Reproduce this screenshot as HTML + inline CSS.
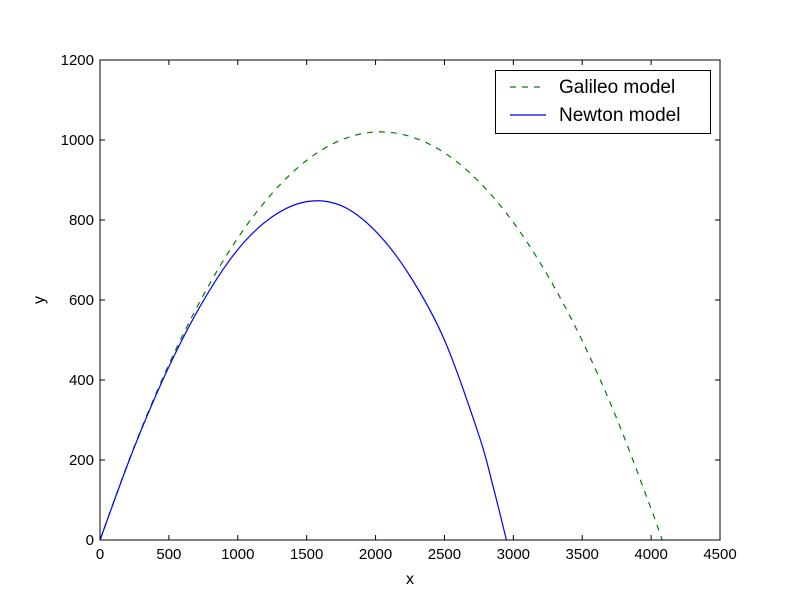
<!DOCTYPE html>
<html><head><meta charset="utf-8"><style>body{margin:0;background:#fff}svg{display:block}text{font-family:"Liberation Sans","DejaVu Sans",sans-serif}</style></head>
<body>
<svg id="chart" width="800" height="600"></svg>
<script>
const galileoX=[0,250,500,750,1000,1250,1500,1750,2000,2250,2500,2750,3000,3250,3500,3750,4000,4080];
const galileoY=[0,235,439,612,755,867,949,1000,1020,1009,968,896,794,661,498,304,78,0];
const newtonX=[0,250,500,750,1000,1250,1500,1750,2000,2250,2500,2750,2850,2950];
const newtonY=[0,233,433,598,726,808,846,836,772,660,500,262,138,0];
const xTicks=[0,500,1000,1500,2000,2500,3000,3500,4000,4500];
const yTicks=[0,200,400,600,800,1000,1200];
const L=100,R=720,T=60,B=540;
const sx=v=>L+(v/4500)*(R-L), sy=v=>B-(v/1200)*(B-T);
const svg=document.getElementById('chart'),NS='http://www.w3.org/2000/svg';
function mk(tag,attrs,parent){const e=document.createElementNS(NS,tag);for(const k in attrs)e.setAttribute(k,attrs[k]);(parent||svg).appendChild(e);return e;}
function pathD(xs,ys){const p=xs.map((x,i)=>[sx(x),sy(ys[i])]);let d='M'+p[0][0]+','+p[0][1];
for(let i=0;i<p.length-1;i++){const p0=p[i-1]||p[i],p1=p[i],p2=p[i+1],p3=p[i+2]||p2;
d+=' C'+(p1[0]+(p2[0]-p0[0])/6)+','+(p1[1]+(p2[1]-p0[1])/6)+' '+(p2[0]-(p3[0]-p1[0])/6)+','+(p2[1]-(p3[1]-p1[1])/6)+' '+p2[0]+','+p2[1];}return d;}
const g=mk('path',{d:pathD(galileoX,galileoY),fill:'none',stroke:'#008000','stroke-width':1.2,'stroke-dasharray':'6,6'});


const n=mk('path',{d:pathD(newtonX,newtonY),fill:'none',stroke:'#0000ff','stroke-width':1.2});


xTicks.forEach(v=>{const x=sx(v);
mk('line',{x1:x,x2:x,y1:B,y2:B-5,stroke:'#000'});mk('line',{x1:x,x2:x,y1:T,y2:T+5,stroke:'#000'});
const t=mk('text',{x:x,y:B+19,'text-anchor':'middle','font-size':15});t.textContent=v;

});
yTicks.forEach(v=>{const y=sy(v);
mk('line',{x1:L,x2:L+5,y1:y,y2:y,stroke:'#000'});mk('line',{x1:R,x2:R-5,y1:y,y2:y,stroke:'#000'});
const t=mk('text',{x:L-6,y:y+5,'text-anchor':'end','font-size':15});t.textContent=v;

});
const f=mk('rect',{x:L,y:T,width:R-L,height:B-T,fill:'none',stroke:'#000'});


const xl=mk('text',{x:410,y:584,'text-anchor':'middle','font-size':16});xl.textContent='x';


const yl=mk('text',{x:44,y:300,'text-anchor':'middle','font-size':16,transform:'rotate(-90 44 300)'});yl.textContent='y';


const lg=mk('g',{});


mk('rect',{x:495.5,y:70.5,width:215,height:63,fill:'#fff',stroke:'#000'},lg);
mk('line',{x1:510,x2:546,y1:87,y2:87,stroke:'#008000','stroke-width':1.2,'stroke-dasharray':'6,6'},lg);
const t1=mk('text',{x:559,y:93,'font-size':19},lg);t1.textContent='Galileo model';


mk('line',{x1:510,x2:546,y1:115,y2:115,stroke:'#0000ff','stroke-width':1.2},lg);
const t2=mk('text',{x:559,y:121,'font-size':19},lg);t2.textContent='Newton model';


</script>
</body></html>
